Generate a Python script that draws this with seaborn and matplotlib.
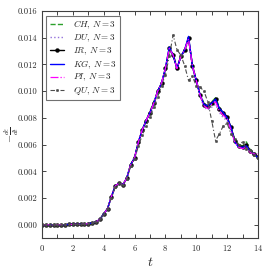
import numpy as np
import pandas as pd
import seaborn as sns
from matplotlib import pyplot as plt
from matplotlib.ticker import MultipleLocator

t = [0.0, 0.25, 0.5, 0.75, 1.0, 1.25, 1.5, 1.75, 2.0, 2.25, 2.5, 2.75, 3.0,
     3.25, 3.5, 3.75, 4.0, 4.25, 4.5, 4.75, 5.0, 5.25, 5.5, 5.75, 6.0,
     6.25, 6.5, 6.75, 7.0, 7.25, 7.5, 7.75, 8.0, 8.25, 8.5, 8.75, 9.0,
     9.25, 9.5, 9.75, 10.0, 10.25, 10.5, 10.75, 11.0, 11.25, 11.5, 11.75, 12.0,
     12.25, 12.5, 12.75, 13.0, 13.25, 13.5, 13.75, 14.0]

ir = [0, 0, 0, 0, 0, 0, 0, 0.00002, 0.00002, 0.00003, 0.00003, 0.00005, 0.00008,
      0.00012, 0.0002, 0.0004, 0.0008, 0.0012, 0.0021, 0.0029, 0.0031, 0.0030, 0.0035, 0.0045, 0.0050,
      0.0062, 0.0071, 0.0078, 0.0084, 0.0091, 0.0100, 0.0106, 0.0117, 0.0132, 0.0127, 0.0117, 0.0126,
      0.0131, 0.0140, 0.0119, 0.0108, 0.0097, 0.0090, 0.0089, 0.0091, 0.0094, 0.0087, 0.0084, 0.0081,
      0.0073, 0.0063, 0.0059, 0.0058, 0.0060, 0.0055, 0.0053, 0.0051]

ch = [0, 0, 0, 0, 0, 0, 0, 0.00002, 0.00002, 0.00003, 0.00003, 0.00005, 0.00008,
      0.00012, 0.0002, 0.0004, 0.0008, 0.0012, 0.0021, 0.0029, 0.0031, 0.0030, 0.0035, 0.0045, 0.0051,
      0.0061, 0.0071, 0.0078, 0.0085, 0.0092, 0.0100, 0.0105, 0.0116, 0.0131, 0.0128, 0.0118, 0.0126,
      0.0130, 0.0139, 0.0120, 0.0108, 0.0098, 0.0091, 0.0089, 0.0092, 0.0095, 0.0088, 0.0083, 0.0080,
      0.0072, 0.0064, 0.0060, 0.0059, 0.0062, 0.0056, 0.0054, 0.0050]

du = [0, 0, 0, 0, 0, 0, 0, 0.00002, 0.00002, 0.00003, 0.00003, 0.00005, 0.00008,
      0.00012, 0.0002, 0.0004, 0.0008, 0.0012, 0.0021, 0.0029, 0.0031, 0.0030, 0.0035, 0.0045, 0.0050,
      0.0062, 0.0070, 0.0077, 0.0083, 0.0090, 0.0099, 0.0105, 0.0116, 0.0131, 0.0126, 0.0116, 0.0125,
      0.0130, 0.0138, 0.0118, 0.0107, 0.0096, 0.0088, 0.0086, 0.0088, 0.0090, 0.0084, 0.0080, 0.0078,
      0.0070, 0.0062, 0.0058, 0.0057, 0.0059, 0.0054, 0.0052, 0.0052]

kg = [0, 0, 0, 0, 0, 0, 0, 0.00002, 0.00002, 0.00003, 0.00003, 0.00005, 0.00008,
      0.00012, 0.0002, 0.0004, 0.0008, 0.0012, 0.0021, 0.0029, 0.0031, 0.0030, 0.0035, 0.0045, 0.0050,
      0.0062, 0.0071, 0.0078, 0.0084, 0.0091, 0.0100, 0.0106, 0.0117, 0.0133, 0.0127, 0.0117, 0.0126,
      0.0131, 0.0141, 0.0119, 0.0108, 0.0097, 0.0090, 0.0089, 0.0091, 0.0094, 0.0087, 0.0084, 0.0080,
      0.0073, 0.0062, 0.0058, 0.0058, 0.0059, 0.0055, 0.0053, 0.0050]

pi = [0, 0, 0, 0, 0, 0, 0, 0.00002, 0.00002, 0.00003, 0.00003, 0.00005, 0.00008,
      0.00012, 0.0002, 0.0004, 0.0008, 0.0012, 0.0021, 0.0029, 0.0031, 0.0030, 0.0035, 0.0045, 0.0050,
      0.0062, 0.0071, 0.0078, 0.0084, 0.0091, 0.0100, 0.0106, 0.0117, 0.0132, 0.0127, 0.0117, 0.0126,
      0.0131, 0.0139, 0.0119, 0.0108, 0.0097, 0.0089, 0.0087, 0.0090, 0.0092, 0.0085, 0.0082, 0.0079,
      0.0071, 0.0062, 0.0058, 0.0057, 0.0058, 0.0054, 0.0053, 0.0053]

qu = [0, 0, 0, 0, 0, 0, 0, 0.00002, 0.00002, 0.00003, 0.00003, 0.00005, 0.00008,
      0.00012, 0.0002, 0.0004, 0.0008, 0.0012, 0.0020, 0.0028, 0.0031, 0.0030, 0.0034, 0.0044, 0.0049,
      0.0059, 0.0067, 0.0074, 0.0081, 0.0088, 0.0096, 0.0104, 0.0112, 0.0126, 0.0142, 0.0131, 0.0127,
      0.0119, 0.0108, 0.0111, 0.0104, 0.0103, 0.0100, 0.0092, 0.0078, 0.0063, 0.0068, 0.0074, 0.0076,
      0.0068, 0.0064, 0.0060, 0.0062, 0.0057, 0.0056, 0.0052, 0.0050]

series = [
    ("CH", ch, dict(color="#2ca02c", linestyle="--", linewidth=1.0)),
    ("DU", du, dict(color="#9370db", linestyle=":", linewidth=1.0)),
    ("IR", ir, dict(color="black", linestyle="-", linewidth=1.0, marker="o", markersize=2.8,
                    markeredgecolor="black", markerfacecolor="black", markeredgewidth=0.3)),
    ("KG", kg, dict(color="blue", linestyle="-", linewidth=1.0)),
    ("PI", pi, dict(color="magenta", linestyle="-.", linewidth=0.9)),
    ("QU", qu, dict(color="0.3", linestyle=(0, (4, 2, 1, 2)), linewidth=0.8, marker="o", markersize=1.8,
                    markeredgecolor="0.3", markerfacecolor="0.3", markeredgewidth=0.3)),
]

sns.set_style("ticks")
plt.rcParams["font.family"] = ["cmr10", "DejaVu Serif"]
plt.rcParams["mathtext.fontset"] = "cm"
plt.rcParams["axes.formatter.use_mathtext"] = True
plt.rcParams["xtick.direction"] = "in"
plt.rcParams["ytick.direction"] = "in"
plt.rcParams["xtick.top"] = True
plt.rcParams["ytick.right"] = True

fig = plt.figure(figsize=(2.69, 2.69), dpi=100)
ax = fig.add_axes([0.156, 0.115, 0.803, 0.844])

df = pd.DataFrame({"t": t})
for name, vals, kw in series:
    df[name] = vals
    sns.lineplot(x="t", y=name, data=df, ax=ax, label=rf"${name}$, $N=3$", **kw)

ax.set_xlim(0, 14)
ax.set_ylim(-0.001, 0.016)
ax.xaxis.set_major_locator(MultipleLocator(2))
ax.xaxis.set_minor_locator(MultipleLocator(1))
ax.yaxis.set_major_locator(MultipleLocator(0.002))
ax.yaxis.set_major_formatter(plt.FuncFormatter(lambda v, p: f"{v:.3f}"))
ax.tick_params(which="both", labelsize=6.2, length=3, width=0.6, direction="in", top=True, right=True)
for s in ax.spines.values():
    s.set_linewidth(0.8)
    s.set_color("0.25")

ax.set_xlabel(r"$t$", fontsize=10, labelpad=2)
ax.set_ylabel("")
fig.text(12 / 269, 0.5, r"$-\frac{d\epsilon}{dt}$", fontsize=7.5, rotation=90,
         ha="center", va="center")

leg = ax.legend(loc="upper left", fontsize=6.5, frameon=True, fancybox=False,
                edgecolor="0.3", handlelength=1.6, borderpad=0.35, labelspacing=0.15,
                handletextpad=1.0)
leg.get_frame().set_linewidth(0.8)

plt.savefig("out.png", dpi=100)
